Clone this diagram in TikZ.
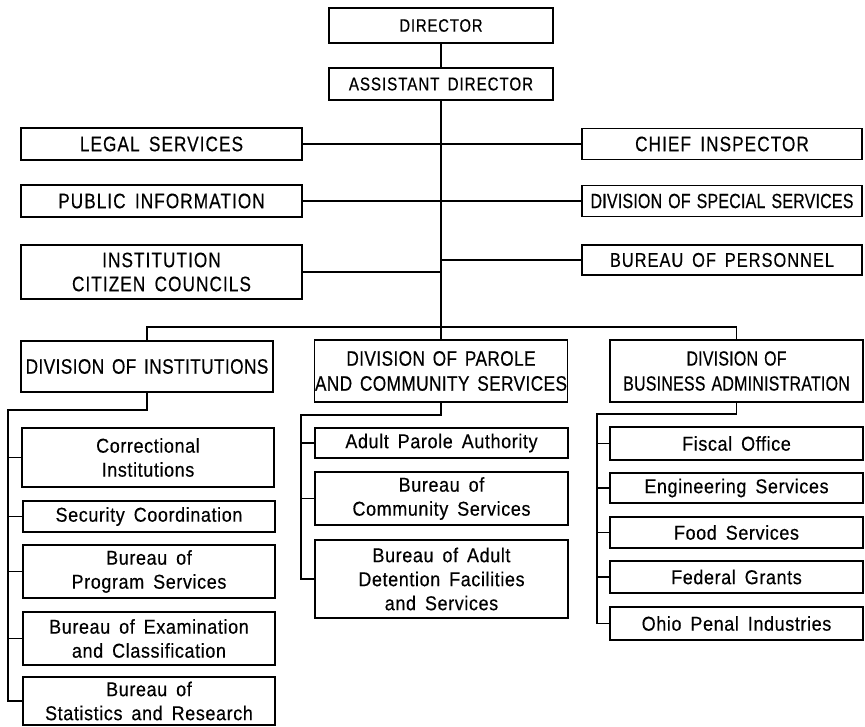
\documentclass[tikz,border=0pt]{standalone}
\usepackage{fontspec}
\setmainfont{Liberation Sans}[FakeStretch=0.9, WordSpace=1.6, LetterSpace=3, FakeBold=0.4]
\newfontfamily\capf{Liberation Sans}[FakeStretch=0.82, WordSpace=1.6, LetterSpace=5, FakeBold=0.4]
\newfontfamily\divf{Liberation Sans}[FakeStretch=0.82, WordSpace=1.5, LetterSpace=2, FakeBold=0.4]
\newfontfamily\narf{Liberation Sans}[FakeStretch=0.78, WordSpace=1.3, LetterSpace=1, FakeBold=0.4]
\begin{document}
\begin{tikzpicture}[x=1pt,y=-1pt,
  box/.style={draw, line width=1.2pt, inner sep=0pt, align=center,
    font=\fontsize{20}{24}\selectfont},
  capbox/.style={box, font=\capf\fontsize{21}{24}\selectfont},
  divbox/.style={box, font=\divf\fontsize{21}{25}\selectfont},
  conn/.style={line width=1.2pt}]
\useasboundingbox (0,0) rectangle (865,726);
% top
\node[box, minimum width=224pt, minimum height=35pt, font=\capf\fontsize{18}{20}\selectfont] (dir) at (441,25.5) {DIRECTOR};
\node[box, minimum width=224pt, minimum height=32pt, font=\capf\fontsize{18.5}{20}\selectfont] (adir) at (441,84) {ASSISTANT DIRECTOR};
% staff left
\node[capbox, minimum width=281pt, minimum height=32pt] (legal) at (161.5,144) {LEGAL SERVICES};
\node[capbox, minimum width=281pt, minimum height=32pt] (pubinf) at (161.5,201) {PUBLIC INFORMATION};
\node[capbox, minimum width=281pt, minimum height=54pt] (icc) at (161.5,272) {INSTITUTION\\CITIZEN COUNCILS};
% staff right
\node[capbox, minimum width=280pt, minimum height=31pt] (chief) at (722,144) {CHIEF INSPECTOR};
\node[box, minimum width=280pt, minimum height=31pt, font=\narf\fontsize{20.5}{22}\selectfont] (dss) at (722,201) {DIVISION OF SPECIAL SERVICES};
\node[capbox, minimum width=280pt, minimum height=30pt, font=\capf\fontsize{20}{22}\selectfont] (bop) at (722,260) {BUREAU OF PERSONNEL};
% divisions
\node[divbox, minimum width=252pt, minimum height=51pt] (divinst) at (147,366.5) {DIVISION OF INSTITUTIONS};
\node[divbox, minimum width=253pt, minimum height=62pt] (divpar) at (441,371) {DIVISION OF PAROLE\\AND COMMUNITY SERVICES};
\node[box, minimum width=253pt, minimum height=62pt, font=\narf\fontsize{20.5}{25}\selectfont] (divbus) at (736.5,371) {DIVISION OF\\BUSINESS ADMINISTRATION};
% institutions sub-units
\node[box, minimum width=252pt, minimum height=59pt] (corr) at (148,457.5) {Correctional\\Institutions};
\node[box, minimum width=252pt, minimum height=31pt] (secur) at (149,516.5) {Security Coordination};
\node[box, minimum width=252pt, minimum height=53pt] (prog) at (149,571.5) {Bureau of\\Program Services};
\node[box, minimum width=252pt, minimum height=53pt] (exam) at (149,638.5) {Bureau of Examination\\and Classification};
\node[box, minimum width=252pt, minimum height=48pt] (stats) at (149,701) {Bureau of\\Statistics and Research};
% parole sub-units
\node[box, minimum width=253pt, minimum height=30pt] (apa) at (441.5,443) {Adult Parole Authority};
\node[box, minimum width=253pt, minimum height=53pt] (comm) at (441.5,498.5) {Bureau of\\Community Services};
\node[box, minimum width=253pt, minimum height=78pt] (det) at (441.5,579) {Bureau of Adult\\Detention Facilities\\and Services};
% business sub-units
\node[box, minimum width=253pt, minimum height=33pt] (fisc) at (736.5,443.5) {Fiscal Office};
\node[box, minimum width=253pt, minimum height=30pt] (eng) at (736.5,488) {Engineering Services};
\node[box, minimum width=253pt, minimum height=31pt] (food) at (736.5,532.5) {Food Services};
\node[box, minimum width=253pt, minimum height=32pt] (fed) at (736.5,577) {Federal Grants};
\node[box, minimum width=253pt, minimum height=33pt] (ohio) at (736.5,623.5) {Ohio Penal Industries};
% coordinates
\coordinate (busL) at (147,327);
\coordinate (busR) at (736.5,327);
\coordinate (ib) at (8,410);
\coordinate (pb) at (301,415);
\coordinate (bb) at (597,414);
% connectors
\draw[conn] (dir.south) -- (adir.north);
\draw[conn] (adir.south) -- (divpar.north);
\draw[conn] (legal.east) -- (chief.west);
\draw[conn] (pubinf.east) -- (dss.west);
\draw[conn] (icc.east) -- (icc.east -| adir.south);
\draw[conn] (bop.west) -- (bop.west -| adir.south);
\draw[conn] (divinst.north) -- (divinst.north |- busL) -- (busR) -- (divbus.north);
% institutions bracket
\draw[conn] (divinst.south) -- (divinst.south |- ib) -- (ib) -- (ib |- stats.west) -- (stats.west);
\draw[conn] (ib |- corr.west) -- (corr.west);
\draw[conn] (ib |- secur.west) -- (secur.west);
\draw[conn] (ib |- prog.west) -- (prog.west);
\draw[conn] (ib |- exam.west) -- (exam.west);
% parole bracket
\draw[conn] (divpar.south) -- (divpar.south |- pb) -- (pb) -- (pb |- det.west) -- (det.west);
\draw[conn] (pb |- apa.west) -- (apa.west);
\draw[conn] (pb |- comm.west) -- (comm.west);
% business bracket
\draw[conn] (divbus.south) -- (divbus.south |- bb) -- (bb) -- (bb |- ohio.west) -- (ohio.west);
\draw[conn] (bb |- fisc.west) -- (fisc.west);
\draw[conn] (bb |- eng.west) -- (eng.west);
\draw[conn] (bb |- food.west) -- (food.west);
\draw[conn] (bb |- fed.west) -- (fed.west);
\end{tikzpicture}
\end{document}
